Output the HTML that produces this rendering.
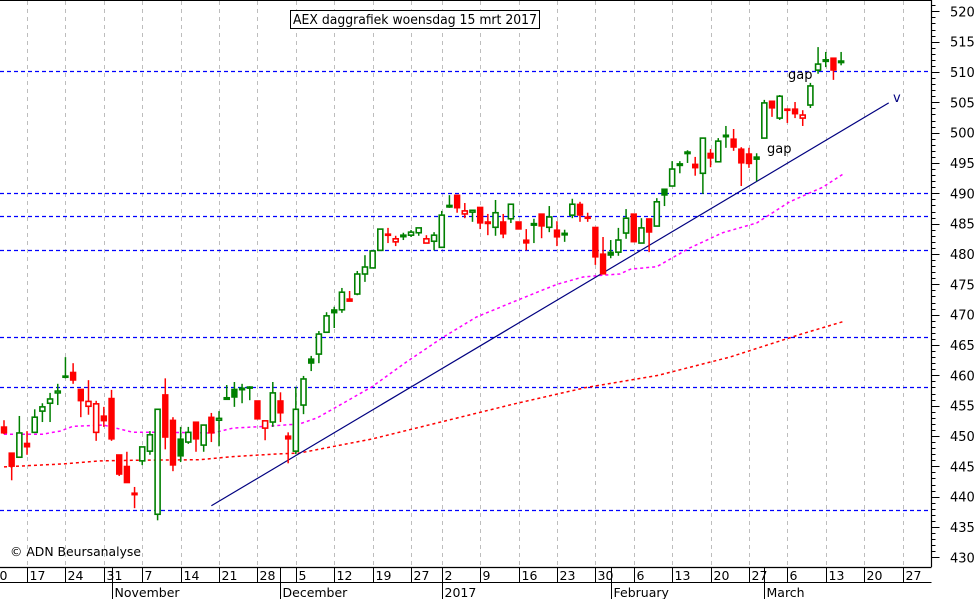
<!DOCTYPE html>
<html><head><meta charset="utf-8"><style>
html,body{margin:0;padding:0;background:#fff;}
svg{display:block;font-family:"DejaVu Sans","Liberation Sans",sans-serif;}
</style></head><body>
<svg id="chart" width="979" height="599" viewBox="0 0 979 599" xmlns="http://www.w3.org/2000/svg">
<g id="grid"></g>
<g id="hlines"></g>
<g id="mas"></g>
<line id="trend" stroke="#000080" stroke-width="1.2"/>
<g id="candles"></g>
<g id="axes"></g>
<rect x="290.5" y="10.5" width="249" height="18" fill="#fff" stroke="#000" stroke-width="1"/>
<text x="293" y="24" font-size="13" textLength="244" lengthAdjust="spacingAndGlyphs">AEX daggrafiek woensdag 15 mrt 2017</text>
<text x="10" y="556" font-size="12.5" textLength="131" lengthAdjust="spacingAndGlyphs">© ADN Beursanalyse</text>
<text x="767" y="153" font-size="13">gap</text>
<text x="788" y="79" font-size="13">gap</text>
<text x="893" y="102" font-size="13" fill="#000080">v</text>
</svg>
<script>
// OHLC candles by sequential trading day index (0 = 12 Oct 2016)
const opens = [451.5,447.2,446.5,448.8,450.6,454.1,455.4,457.1,459.9,460.5,457.7,454.9,450.6,453.3,456.2,446.9,445.0,440.6,445.9,447.5,437.1,456.8,452.6,449.5,449.0,452.3,448.5,453.1,452.6,456.2,457.7,457.9,458.1,455.8,451.3,452.3,455.8,450.0,447.5,455.1,462.7,463.5,467.1,470.8,470.8,472.6,473.4,476.7,477.7,480.6,483.3,482.0,483.0,483.1,483.5,481.8,482.1,481.1,487.9,489.7,486.6,486.9,487.7,485.3,484.4,485.3,485.8,485.3,482.3,484.8,486.6,484.4,483.95,483.3,486.4,488.2,486.1,484.4,480.0,480.3,480.3,483.45,486.6,481.8,485.8,484.6,490.7,491.2,494.8,496.6,494.8,493.3,496.6,495.2,499.6,498.95,497.3,496.5,496.0,499.1,505.2,502.4,503.9,503.9,502.4,504.55,510.3,511.8,512.3,511.6];
const highs = [452.6,447.2,453.3,450.8,454.4,455.4,457.1,458.6,463.0,462.0,457.7,459.2,455.8,454.8,457.6,446.9,447.4,441.6,448.2,450.8,454.4,459.5,453.1,451.5,451.5,452.3,451.8,453.8,454.1,458.4,458.9,458.6,458.2,455.8,452.5,458.9,457.2,450.6,458.1,459.9,463.2,467.3,470.4,471.3,474.4,473.9,477.2,479.8,480.5,484.1,484.3,483.0,483.5,483.95,484.3,483.1,483.6,487.1,489.7,489.7,488.4,487.3,487.7,486.6,488.9,486.6,488.2,485.3,484.1,485.8,486.6,487.9,485.4,484.0,489.1,488.6,486.8,484.4,482.8,482.3,484.3,487.4,486.6,485.9,485.8,489.2,490.7,495.3,495.3,497.1,496.0,499.1,497.3,499.1,501.1,500.6,497.6,497.5,496.6,505.4,505.2,506.2,504.0,505.05,503.7,508.2,514.1,513.3,512.3,513.3];
const lows = [450.3,442.7,446.4,446.9,450.6,452.3,452.3,455.1,459.5,458.6,453.1,453.5,449.2,451.5,449.2,443.4,442.3,438.1,445.2,446.9,436.1,447.8,444.2,445.7,448.7,447.4,447.4,449.0,448.3,456.2,454.8,455.4,455.9,452.8,449.3,451.5,452.3,445.5,447.0,453.6,460.7,462.0,467.1,467.8,470.3,472.2,473.2,475.4,477.7,480.6,481.8,481.3,482.3,482.8,483.0,481.8,480.6,481.1,487.6,486.8,485.9,485.3,484.1,483.1,483.0,482.6,485.1,484.1,480.6,481.8,482.6,483.6,481.3,482.0,485.9,485.3,485.3,478.2,476.7,479.3,479.7,482.5,482.0,481.8,480.3,484.6,487.9,491.2,493.3,495.0,492.9,489.9,494.3,495.2,497.5,497.0,491.2,494.2,492.0,499.1,502.6,502.1,501.6,502.4,501.1,504.06,509.7,510.8,508.7,511.1];
const closes = [450.5,445.0,450.5,448.2,453.1,454.8,456.1,457.4,459.7,459.2,455.8,455.7,455.3,452.5,449.5,443.7,442.3,440.3,448.2,450.2,454.4,449.8,445.2,446.7,450.6,449.5,451.8,450.5,452.9,456.3,456.4,457.6,458.1,452.8,452.5,457.1,453.8,449.5,454.4,459.4,462.0,466.8,469.8,470.3,473.7,472.2,476.7,477.85,480.5,484.1,483.2,482.5,483.1,483.6,484.3,482.5,483.1,486.4,488.0,487.6,487.1,487.2,485.1,485.0,486.8,483.3,488.2,484.1,481.8,485.0,484.6,486.1,482.8,483.4,488.2,486.4,485.9,479.5,476.7,479.8,482.3,485.9,482.0,484.3,483.6,488.6,489.7,494.0,494.85,496.8,494.2,499.1,495.8,498.6,499.3,497.6,495.0,494.9,495.6,504.9,504.06,506.0,503.8,503.1,502.9,507.7,511.3,512.0,510.3,511.8];
// moving averages (day index, value)
const maShortIdx = [0,5,7.3,9,13,16.8,21.2,27.2,29.8,34.2,38.5,40.8,44.3,47.9,52.4,57.2,61.5,66.5,72,75.4,78,80.2,81.6,85,89.3,93.6,98,102.3,106.6,109.3];
const maShortVal = [450.3,450.3,450.8,451.6,451.8,450.6,450.6,450.5,451.3,451.6,452.0,453.0,455.5,458.1,462.2,466.3,469.6,472.2,475.0,476.2,476.5,476.7,477.5,477.9,481.0,483.5,485.1,488.6,491.0,493.2];
const maLongIdx = [0,7.7,12.5,16.8,25.5,29.8,35,38.5,47.9,57.2,66.5,75.8,85.2,94.5,103.8,109.4];
const maLongVal = [444.9,445.4,445.9,446.0,446.1,446.6,447.0,447.2,449.5,452.4,455.3,458.0,460.0,463.0,466.8,468.9];
// horizontal support / resistance levels
const levels = [510.1,490.0,486.2,480.6,466.3,458.0,437.8];
// trend line endpoints (index, price)
const trendIdx = [27,115.2];
const trendVal = [438.5,504.9];
// axis labels
const weekLabels = ['10','17','24','31','7','14','21','28','5','12','19','27','2','9','16','23','30','6','13','20','27','6','13','20','27'];
const weekIdx = [-2,3,8,13,18,23,28,33,38,43,48,53,57,62,67,72,77,82,87,92,97,102,107,112,117];
const monthLabels = ['October','November','December','2017','February','March'];
const monthIdx = [-31,14,36,57,79,99];
const yTicks = [430,435,440,445,450,455,460,465,470,475,480,485,490,495,500,505,510,515,520];

const NS='http://www.w3.org/2000/svg';
const X0=4, DX=7.68, PLOT_R=931.5, PLOT_B=567;
const xs = i => X0 + DX*i;
const ys = p => 11.3 + (520-p)*6.067;
function mk(tag, attrs, parent){const e=document.createElementNS(NS,tag);for(const k in attrs)e.setAttribute(k,attrs[k]);parent.appendChild(e);return e;}

const grid=document.getElementById('grid');
weekIdx.forEach((w,k)=>{
  const x=Math.round(xs(w))+0.5;
  const l=mk('line',{x1:x,x2:x,y1:1,y2:PLOT_B,stroke:'#bdbdbd','stroke-width':1,'stroke-dasharray':'4,4'},grid);
  
  
});

const hl=document.getElementById('hlines');
levels.forEach(v=>{
  const y=Math.round(ys(v))+0.5;
  const l=mk('line',{x1:0,x2:PLOT_R,y1:y,y2:y,stroke:'#0000ff','stroke-width':1.2,'stroke-dasharray':'4,3'},hl);
  
  
});

const mas=document.getElementById('mas');
function maPath(idx,val,color,name){
  const d=idx.map((i,k)=>(k?'L':'M')+xs(i).toFixed(1)+' '+ys(val[k]).toFixed(1)).join(' ');
  const p=mk('path',{d:d,fill:'none',stroke:color,'stroke-width':1.5,'stroke-dasharray':'3,3'},mas);
  
  
}
maPath(maShortIdx,maShortVal,'#ff00ff','moving-average-short');
maPath(maLongIdx,maLongVal,'#ff0000','moving-average-long');

const tr=document.getElementById('trend');
tr.setAttribute('x1',xs(trendIdx[0]));tr.setAttribute('y1',ys(trendVal[0]));
tr.setAttribute('x2',xs(trendIdx[1]));tr.setAttribute('y2',ys(trendVal[1]));

const cg=document.getElementById('candles');
opens.forEach((o,i)=>{
  const c=closes[i], h=highs[i], l=lows[i];
  const prev = i>0 ? closes[i-1] : c+1;
  const color = c>=prev ? '#008000' : '#ff0000';
  const up = c>o;
  const x=xs(i);
  const g=mk('g',{},cg);
  
  
  mk('line',{x1:x,x2:x,y1:ys(h),y2:ys(l),stroke:color,'stroke-width':1.5},g);
  const top=ys(Math.max(o,c)), bot=ys(Math.min(o,c));
  const hgt=Math.max(bot-top,1.5);
  if(up){
    mk('rect',{x:x-2.5,y:top,width:5,height:hgt,fill:'#fff',stroke:color,'stroke-width':1.6},g);
  } else {
    mk('rect',{x:x-3.2,y:top-0.6,width:6.4,height:hgt+1.2,fill:color},g);
  }
});

const ax=document.getElementById('axes');
mk('line',{x1:0,x2:PLOT_R,y1:0.5,y2:0.5,stroke:'#000','stroke-width':1},ax);
mk('line',{x1:PLOT_R,x2:PLOT_R,y1:0,y2:PLOT_B,stroke:'#000','stroke-width':1.2},ax);
mk('line',{x1:0,x2:PLOT_R,y1:PLOT_B+0.5,y2:PLOT_B+0.5,stroke:'#000','stroke-width':1.2},ax);
mk('line',{x1:0,x2:PLOT_R,y1:582.5,y2:582.5,stroke:'#000','stroke-width':1},ax);
for(let v=430; v<=521; v++){
  const y=Math.round(ys(v))+0.5;
  const major=(v%5===0);
  mk('line',{x1:PLOT_R,x2:PLOT_R+(major?8:4),y1:y,y2:y,stroke:'#000','stroke-width':1},ax);
}
yTicks.forEach(v=>{
  const t=mk('text',{x:950,y:ys(v)+5,'font-size':13},ax);
  t.textContent=v;
  
  
});
weekIdx.forEach((w,k)=>{
  const x=Math.round(xs(w))+0.5;
  mk('line',{x1:x,x2:x,y1:PLOT_B,y2:582.5,stroke:'#000','stroke-width':1},ax);
  const t=mk('text',{x:x+2,y:580,'font-size':12.5},ax);
  t.textContent=weekLabels[k];
  
  
});
monthIdx.forEach((m,k)=>{
  const x=Math.round(xs(m))+0.5;
  mk('line',{x1:x,x2:x,y1:PLOT_B,y2:599,stroke:'#000','stroke-width':1},ax);
  const t=mk('text',{x:x+2,y:597,'font-size':12.5},ax);
  t.textContent=monthLabels[k];
  
  
});
</script>
</body></html>
